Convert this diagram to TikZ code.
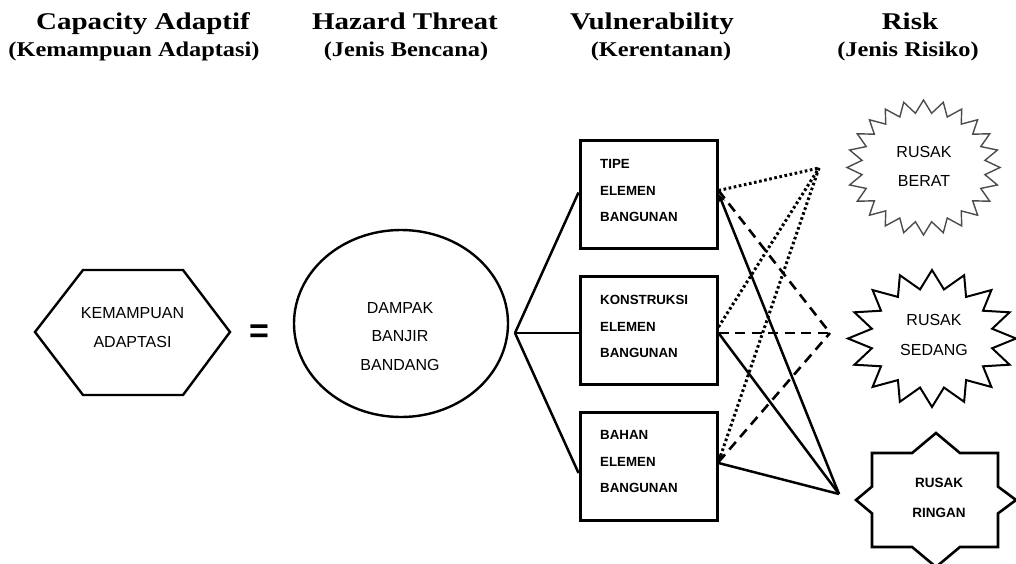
\documentclass[tikz,border=0pt]{standalone}
\usepackage{fontspec}
\setmainfont{Liberation Serif}
\newfontfamily\arialf{Liberation Sans}
\usetikzlibrary{arrows.meta,shapes.geometric}
\tikzset{
  ttl/.style={anchor=base,inner sep=0pt,font=\fontsize{24}{24}\selectfont\bfseries},
  sub/.style={anchor=base,inner sep=0pt,font=\fontsize{21}{21}\selectfont\bfseries},
  bodytxt/.style={inner sep=0pt,align=center,font=\arialf\fontsize{16}{29}\selectfont},
  boxtxt/.style={inner sep=0pt,align=left,anchor=west,font=\arialf\bfseries\fontsize{13.3}{26.5}\selectfont},
  vbox/.style={draw,line width=3pt,minimum width=137,minimum height=108,inner sep=0pt},
  conn/.style={line width=2.5pt},
  dotc/.style={line width=3pt,dash pattern=on 2.6pt off 2.6pt},
  dashc/.style={line width=2.6pt,dash pattern=on 10pt off 6.5pt},
  tip/.style={-{Stealth[length=9pt,width=7pt]}},
}
\begin{document}
\begin{tikzpicture}[x=1pt,y=-1pt]
\useasboundingbox (0,0) rectangle (1016,564);
% titles
\node[ttl] (t1) at (143,30) {\scalebox{1.21}[1]{Capacity Adaptif}};
\node[sub] (s1) at (134,57) {\scalebox{1.16}[1]{(Kemampuan Adaptasi)}};
\node[ttl] (t2) at (405,30) {\scalebox{1.21}[1]{Hazard Threat}};
\node[sub] (s2) at (406,57) {\scalebox{1.16}[1]{(Jenis Bencana)}};
\node[ttl] (t3) at (652,30) {\scalebox{1.21}[1]{Vulnerability}};
\node[sub] (s3) at (661,57) {\scalebox{1.16}[1]{(Kerentanan)}};
\node[ttl] (t4) at (910,30) {\scalebox{1.21}[1]{Risk}};
\node[sub] (s4) at (908,57) {\scalebox{1.16}[1]{(Jenis Risiko)}};
% hexagon
\coordinate (h1) at (35,332);
\coordinate (h2) at (83,270);
\coordinate (h3) at (183,270);
\coordinate (h4) at (230,332);
\coordinate (h5) at (183,395);
\coordinate (h6) at (83,395);
\draw[line width=2.4pt,line join=miter] (h1) -- (h2) -- (h3) -- (h4) -- (h5) -- (h6) -- cycle;
\node[bodytxt] (hext) at (132.5,327.5) {KEMAMPUAN\\ADAPTASI};
% equals
\node[inner sep=0pt,font=\arialf\bfseries\fontsize{34}{34}\selectfont] (eq) at (259,334) {=};
% ellipse
\node[draw,ellipse,line width=2.4pt,minimum width=214,minimum height=187,inner sep=0pt] (ell) at (401,323.5) {};
\node[bodytxt,font=\arialf\fontsize{16}{28.5}\selectfont] (elltxt) at (400,336.5) {DAMPAK\\BANJIR\\BANDANG};
\coordinate (ep) at (515,333);
% boxes
\node[vbox] (box1) at (648.5,194.5) {};
\node[vbox] (box2) at (648.5,330) {};
\node[vbox] (box3) at (648.5,466) {};
\node[boxtxt] (b1t) at (600,190.7) {TIPE\\ELEMEN\\BANGUNAN};
\node[boxtxt] (b2t) at (600,326.7) {KONSTRUKSI\\ELEMEN\\BANGUNAN};
\node[boxtxt] (b3t) at (600,461.7) {BAHAN\\ELEMEN\\BANGUNAN};
% ellipse to boxes
\draw[conn] (ep) -- ([yshift=2pt]box1.west);
\draw[conn] (ep) -- ([yshift=-3pt]box2.west);
\draw[conn] (ep) -- ([yshift=-7pt]box3.west);
% convergence points
\coordinate (T) at (819,168);
\coordinate (M) at (830,333);
\coordinate (B) at (839,494);
% dotted
\draw[dotc] ([yshift=4pt]box1.east) -- (T);
\draw[dotc] ([yshift=3pt]box2.east) -- (T);
\draw[dotc,tip] (T) -- ([yshift=4pt]box3.east);
% dashed
\draw[dashc] ([yshift=4pt]box1.east) -- (M);
\draw[dashc] ([yshift=-3pt]box2.east) -- (M);
\draw[dashc] ([yshift=4pt]box3.east) -- (M);
% solid
\draw[conn,tip] (B) -- ([yshift=1pt]box1.east);
\draw[conn] ([yshift=-3pt]box2.east) -- (B);
\draw[conn] ([yshift=3pt]box3.east) -- (B);
% star 1 (24 points)
\draw[line width=1.4pt,draw=black!70,line join=miter,shift={(923.5,167.5)}]
  plot[samples at={0,...,47},variable=\k]
  ({76.5*(1-0.19*mod(\k,2))*cos(90+7.5*\k)},{67.5*(1-0.19*mod(\k,2))*sin(90+7.5*\k)}) -- cycle;
\node[bodytxt,font=\arialf\fontsize{16}{29}\selectfont] (r1) at (924,166.5) {RUSAK\\BERAT};
% star 2 (16 points)
\draw[line width=2pt,line join=miter,shift={(932,338.5)}]
  plot[samples at={0,...,31},variable=\k]
  ({84*(1-0.27*mod(\k,2))*cos(90+11.25*\k)},{68.5*(1-0.27*mod(\k,2))*sin(90+11.25*\k)}) -- cycle;
\node[bodytxt,font=\arialf\fontsize{16}{30}\selectfont] (r2) at (934,335) {RUSAK\\SEDANG};
% star 3 (8 points)
\draw[line width=2.6pt,line join=miter]
  (936,433) -- (959.9,453) -- (998,453) -- (998,486.6) -- (1016,500) -- (998,513.4)
  -- (998,547) -- (959.9,547) -- (936,567) -- (912.1,547) -- (872,547) -- (872,513.4)
  -- (856,500) -- (872,486.6) -- (872,453) -- (912.1,453) -- cycle;
\node[bodytxt,font=\arialf\bfseries\fontsize{13.5}{30}\selectfont] (r3) at (939,498) {RUSAK\\RINGAN};
\end{tikzpicture}
\end{document}
